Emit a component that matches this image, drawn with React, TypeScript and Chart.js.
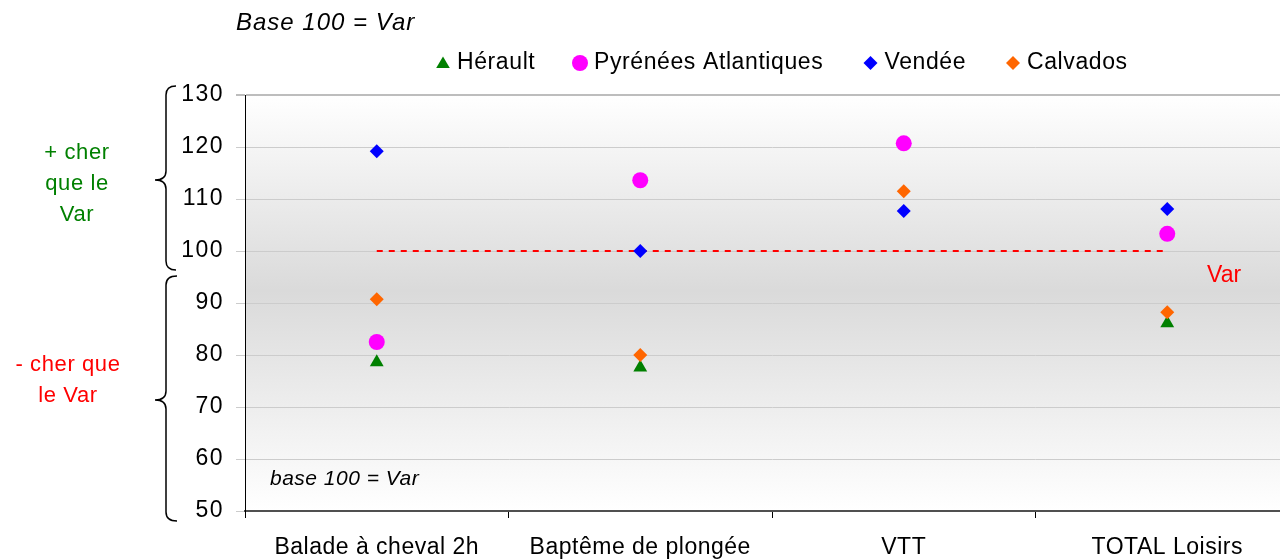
import React, { useEffect, useRef } from 'react';
import { Chart, registerables } from 'chart.js';

Chart.register(...registerables);

const CATEGORIES = ['Balade à cheval 2h', 'Baptême de plongée', 'VTT', 'TOTAL Loisirs'];
const HERAULT = [78.6, 77.6, null, 86.1];
const PYRENEES = [82.5, 113.6, 120.7, 103.3];
const VENDEE = [119.2, 100, 107.7, 108.1];
const CALVADOS = [90.7, 80, 111.5, 88.2];
const BASE_LINE = [100, 100, 100, 100];
const Y_MIN = 50;
const Y_MAX = 130;
const Y_STEP = 10;

const SERIES_LABELS = ['Hérault', 'Pyrénées Atlantiques', 'Vendée', 'Calvados'];
const SERIES_COLORS = ['#008000', '#ff00ff', '#0000ff', '#ff6600'];
const SERIES_STYLES = ['triangle', 'circle', 'rectRot', 'rectRot'];

const FONT = "'Liberation Sans', Arial, sans-serif";

function drawMarker(ctx: CanvasRenderingContext2D, style: string, x: number, y: number, color: string) {
  ctx.save();
  ctx.fillStyle = color;
  ctx.beginPath();
  if (style === 'triangle') {
    ctx.moveTo(x, y - 6.5);
    ctx.lineTo(x + 6.8, y + 5);
    ctx.lineTo(x - 6.8, y + 5);
    ctx.closePath();
  } else if (style === 'circle') {
    ctx.arc(x, y, 8, 0, Math.PI * 2);
  } else {
    ctx.moveTo(x, y - 7);
    ctx.lineTo(x + 7, y);
    ctx.lineTo(x, y + 7);
    ctx.lineTo(x - 7, y);
    ctx.closePath();
  }
  ctx.fill();
  ctx.restore();
}

function drawBrace(ctx: CanvasRenderingContext2D, x: number, yTop: number, yMid: number, yBot: number, tipX: number, endX: number) {
  const r = 9;
  ctx.beginPath();
  ctx.moveTo(endX, yTop);
  ctx.quadraticCurveTo(x, yTop, x, yTop + r);
  ctx.lineTo(x, yMid - r);
  ctx.quadraticCurveTo(x, yMid, tipX, yMid);
  ctx.quadraticCurveTo(x, yMid, x, yMid + r);
  ctx.lineTo(x, yBot - r);
  ctx.quadraticCurveTo(x, yBot, endX, yBot);
  ctx.stroke();
}

const backgroundPlugin = {
  id: 'bgGradient',
  beforeDraw(chart: any) {
    const { ctx, chartArea } = chart;
    if (!chartArea) return;
    const g = ctx.createLinearGradient(0, chartArea.top, 0, chartArea.bottom);
    g.addColorStop(0, '#ffffff');
    g.addColorStop(0.47, '#dadada');
    g.addColorStop(1, '#ffffff');
    ctx.save();
    ctx.fillStyle = g;
    ctx.fillRect(chartArea.left, chartArea.top, chartArea.right - chartArea.left, chartArea.bottom - chartArea.top);
    ctx.restore();
  },
};

const spacingPlugin = {
  id: 'labelSpacing',
  afterLayout(chart: any) {
    const patch = (scale: any, ls: string) => {
      if (!scale || scale.__patched) return;
      const orig = scale.drawLabels.bind(scale);
      scale.drawLabels = (area: any) => {
        const c = chart.ctx;
        c.save();
        (c as any).letterSpacing = ls;
        orig(area);
        c.restore();
      };
      scale.__patched = true;
    };
    patch(chart.scales.x, '0.5px');
    patch(chart.scales.y, '1.5px');
  },
};

const annotationsPlugin = {
  id: 'annotations',
  afterDraw(chart: any) {
    const ctx: CanvasRenderingContext2D = chart.ctx;
    ctx.save();
    // Title
    ctx.fillStyle = '#000';
    ctx.font = `italic 24px ${FONT}`;
    (ctx as any).letterSpacing = '1px';
    ctx.textAlign = 'left';
    ctx.textBaseline = 'alphabetic';
    ctx.fillText('Base 100 = Var', 236, 30);

    // Legend
    const markerX = [443, 580, 870.5, 1013];
    ctx.font = `23px ${FONT}`;
    (ctx as any).letterSpacing = '0.6px';
    SERIES_LABELS.forEach((label, i) => {
      drawMarker(ctx, SERIES_STYLES[i], markerX[i], 63, SERIES_COLORS[i]);
      ctx.fillStyle = '#000';
      ctx.fillText(label, markerX[i] + 14, 69);
    });

    // In-plot note
    ctx.font = `italic 21px ${FONT}`;
    (ctx as any).letterSpacing = '0.5px';
    ctx.fillStyle = '#000';
    ctx.fillText('base 100 = Var', 270, 485);

    // Var label
    ctx.font = `23px ${FONT}`;
    (ctx as any).letterSpacing = '0px';
    ctx.fillStyle = '#ff0000';
    ctx.fillText('Var', 1207, 282);

    // Left side labels
    ctx.textAlign = 'center';
    ctx.font = `22px ${FONT}`;
    (ctx as any).letterSpacing = '0.6px';
    ctx.fillStyle = '#008000';
    ctx.fillText('+ cher', 77, 159);
    ctx.fillText('que le', 77, 190);
    ctx.fillText('Var', 77, 221);
    ctx.fillStyle = '#ff0000';
    ctx.fillText('- cher que', 68, 371);
    ctx.fillText('le Var', 68, 402);

    // Braces
    ctx.strokeStyle = '#000';
    ctx.lineWidth = 1.5;
    drawBrace(ctx, 166, 86, 180, 270, 155, 176);
    drawBrace(ctx, 166, 276, 400, 521, 155, 177);
    ctx.restore();
  },
};

export default function App() {
  const canvasRef = useRef<HTMLCanvasElement | null>(null);

  useEffect(() => {
    const canvas = canvasRef.current;
    if (!canvas) return;
    const scatter = (i: number, data: (number | null)[], order: number) => ({
      type: 'line' as const,
      label: SERIES_LABELS[i],
      data,
      showLine: false,
      pointStyle: SERIES_STYLES[i],
      pointRadius: SERIES_STYLES[i] === 'rectRot' ? 7 : 8,
      pointBackgroundColor: SERIES_COLORS[i],
      pointBorderColor: SERIES_COLORS[i],
      pointBorderWidth: 0,
      backgroundColor: SERIES_COLORS[i],
      borderColor: SERIES_COLORS[i],
      order,
    });
    const chart = new Chart(canvas, {
      type: 'line',
      data: {
        labels: CATEGORIES,
        datasets: [
          scatter(0, HERAULT, 4),
          scatter(1, PYRENEES, 3),
          scatter(2, VENDEE, 2),
          scatter(3, CALVADOS, 1),
          {
            type: 'line',
            label: 'Var',
            data: BASE_LINE,
            borderColor: '#ff0000',
            borderWidth: 2,
            borderDash: [6, 6],
            pointRadius: 0,
            fill: false,
            order: 5,
          } as any,
        ],
      },
      options: {
        responsive: false,
        animation: false,
        devicePixelRatio: 1,
        layout: { padding: { left: 0, right: 2, top: 95, bottom: 0 } },
        plugins: {
          legend: { display: false },
          title: { display: false },
          tooltip: { enabled: false },
        },
        scales: {
          x: {
            type: 'category',
            offset: true,
            afterFit: (s: any) => { s.height = 49; },
            grid: {
              drawOnChartArea: false,
              drawTicks: true,
              tickLength: 7,
              color: '#000',
              offset: true,
            },
            border: { display: true, color: '#505050', width: 2 },
            ticks: {
              font: { family: FONT, size: 23 },
              color: '#000',
              padding: 16,
              maxRotation: 0,
              autoSkip: false,
            },
          },
          y: {
            min: Y_MIN,
            max: Y_MAX,
            afterFit: (s: any) => { s.width = 245; },
            grid: {
              color: (c: any) => (c.tick && c.tick.value === Y_MAX ? '#bdbdbd' : '#cccccc'),
              lineWidth: (c: any) => (c.tick && c.tick.value === Y_MAX ? 2 : 1),
              tickLength: 9,
              drawTicks: true,
            },
            border: { display: true, color: '#000', width: 1 },
            ticks: {
              stepSize: Y_STEP,
              font: { family: FONT, size: 23 },
              color: '#000',
              padding: 12,
            },
          },
        },
      },
      plugins: [backgroundPlugin, spacingPlugin, annotationsPlugin],
    });
    return () => chart.destroy();
  }, []);

  return (
    <div style={{ position: 'fixed', left: 0, top: 0, width: 1280, height: 560, overflow: 'hidden', background: '#fff' }}>
      <canvas ref={canvasRef} width={1307} height={560} style={{ display: 'block', width: 1307, height: 560 }} />
    </div>
  );
}
